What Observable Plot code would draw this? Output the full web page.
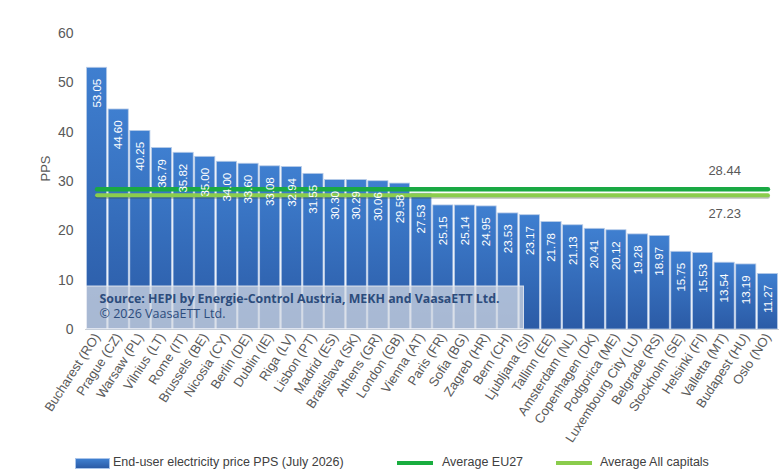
<!DOCTYPE html>
<html><head><meta charset="utf-8">
<script src="https://cdn.jsdelivr.net/npm/d3@7"></script>
<script src="https://cdn.jsdelivr.net/npm/@observablehq/plot@0.6"></script>
<style>
body{margin:0;background:#fff;font-family:"Liberation Sans",Arial,sans-serif;overflow:hidden;}
#wrap{position:relative;width:780px;height:470px;overflow:hidden;background:#fff;}
#legend{position:absolute;top:455px;left:0;width:780px;height:15px;font-size:12.5px;color:#404040;}
#legend span{position:absolute;white-space:nowrap;}
[aria-label^="y-axis"] text{font-size:14px;}
</style>
</head><body>
<div id="wrap">
<div id="chart"></div>
<div id="legend">
 <span style="left:75px;top:3px;width:33px;height:9px;background:linear-gradient(#3f7fd0,#2b5ba6);border:1px solid #a9c4ea;"></span>
 <span style="left:113px;top:0">End-user electricity price PPS (July 2026)</span>
 <span style="left:397px;top:6px;width:36px;height:4px;background:#19ad3f;"></span>
 <span style="left:442px;top:0">Average EU27</span>
 <span style="left:556px;top:6px;width:36px;height:4px;background:#8acc4c;"></span>
 <span style="left:600px;top:0">Average All capitals</span>
</div>
</div>
<script>
const cities = ["Bucharest (RO)","Prague (CZ)","Warsaw (PL)","Vilnius (LT)","Rome (IT)","Brussels (BE)","Nicosia (CY)","Berlin (DE)","Dublin (IE)","Riga (LV)","Lisbon (PT)","Madrid (ES)","Bratislava (SK)","Athens (GR)","London (GB)","Vienna (AT)","Paris (FR)","Sofia (BG)","Zagreb (HR)","Bern (CH)","Ljubljana (SI)","Tallinn (EE)","Amsterdam (NL)","Copenhagen (DK)","Podgorica (ME)","Luxembourg City (LU)","Belgrade (RS)","Stockholm (SE)","Helsinki (FI)","Valletta (MT)","Budapest (HU)","Oslo (NO)"];
const prices = [53.05,44.60,40.25,36.79,35.82,35.00,34.00,33.60,33.08,32.94,31.55,30.30,30.29,30.06,29.58,27.53,25.15,25.14,24.95,23.53,23.17,21.78,21.13,20.41,20.12,19.28,18.97,15.75,15.53,13.54,13.19,11.27];
const avgEU27 = 28.44;
const avgCapitals = 27.23;
const yTicks = [0,10,20,30,40,50,60];
const avgLabelCity = "Valletta (MT)";
const sourceLine1 = "Source: HEPI by Energie-Control Austria, MEKH and VaasaETT Ltd.";
const sourceLine2 = "© 2026 VaasaETT Ltd.";

const data = cities.map((c,i)=>({city:c, price:prices[i]}));

const plot = Plot.plot({
  width:780, height:455,
  marginTop:33, marginBottom:126, marginLeft:85, marginRight:1,
  style:{fontFamily:"Liberation Sans, Arial, sans-serif", fontSize:"13px", color:"#595959", background:"#fff"},
  x:{domain:cities, padding:0.07, round:false, label:null, tickSize:0, tickRotate:-57, tickPadding:5},
  y:{domain:[0,60], ticks:yTicks, label:null, tickSize:0, tickPadding:12},
  marks:[
    Plot.ruleY([0], {stroke:"#d0d0d0", strokeWidth:1}),
    Plot.barY(data, {x:"city", y:"price", fill:"url(#barGrad)", stroke:"#b9cce8", strokeWidth:0.8}),
    Plot.line(cities, {x:d=>d, y:()=>avgEU27, stroke:"#1aa944", strokeWidth:4.5}),
    Plot.line(cities, {x:d=>d, y:()=>avgCapitals, stroke:"#3a4a3a", strokeOpacity:0.35, strokeWidth:4, dy:1.5}),
    Plot.line(cities, {x:d=>d, y:()=>avgCapitals, stroke:"#8bcd4d", strokeWidth:4}),
    Plot.text(data, {x:"city", y:"price", text:d=>d.price.toFixed(2), rotate:-90, textAnchor:"end", lineAnchor:"middle", dy:11, fill:"white", fontSize:11.5}),
    Plot.text([{city:avgLabelCity, v:avgEU27}], {x:"city", y:"v", text:d=>d.v.toFixed(2), dy:-18, fill:"#595959", fontSize:13}),
    Plot.text([{city:avgLabelCity, v:avgCapitals}], {x:"city", y:"v", text:d=>d.v.toFixed(2), dy:19, fill:"#595959", fontSize:13}),
    Plot.text(["PPS"], {frameAnchor:"left", text:d=>d, rotate:-90, dx:-40, fill:"#595959", fontSize:13})
  ]
});
const svg = d3.select(plot);
svg.insert("defs", ":first-child").html(
  '<linearGradient id="barGrad" x1="0" y1="0" x2="0" y2="1"><stop offset="0" stop-color="#3f7fd0"/><stop offset="1" stop-color="#2b5ba6"/></linearGradient>'
);
// source annotation box, over the bars
const xs = plot.scale("x");
const boxX = xs.apply(cities[0]);
const box = svg.append("g").attr("aria-label","source").attr("text-anchor","start");
box.append("rect").attr("x", boxX).attr("y", 286).attr("width", 437).attr("height", 42.5)
  .attr("fill", "#d4d9e2").attr("fill-opacity", 0.74).attr("stroke", "#eceff4").attr("stroke-opacity", 0.85);
box.append("text").attr("x", boxX + 13).attr("y", 303).attr("text-anchor","start").text(sourceLine1)
  .attr("font-family", "Open Sans, sans-serif").attr("font-weight", 700).attr("font-size", 11.8)
  .attr("fill", "#2c4c7c").attr("textLength", 400).attr("lengthAdjust", "spacingAndGlyphs");
box.append("text").attr("x", boxX + 13).attr("y", 318).attr("text-anchor","start").text(sourceLine2)
  .attr("font-family", "Open Sans, sans-serif").attr("font-size", 11.8)
  .attr("fill", "#2c4c7c").attr("textLength", 126).attr("lengthAdjust", "spacingAndGlyphs");
document.getElementById("chart").appendChild(plot);
</script>
</body></html>
